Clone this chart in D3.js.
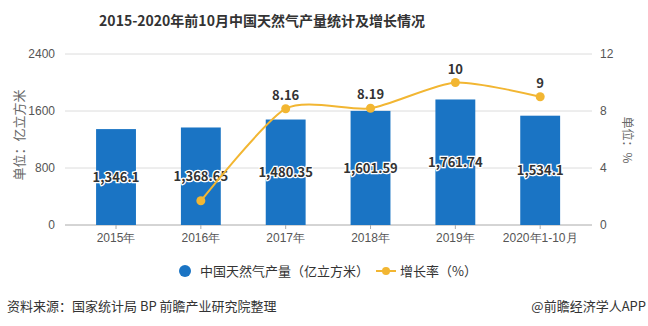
<!DOCTYPE html>
<html>
<head>
<meta charset="utf-8">
<script src="https://cdn.jsdelivr.net/npm/d3@7"></script>
<style>
  body { margin: 0; background: #fff; }
  svg { font-family: "Microsoft YaHei", "Noto Sans CJK SC", sans-serif; }
  .axis text { fill: #555; font-size: 12px; }
  .axis path, .axis line { stroke: #aaa; }
</style>
</head>
<body>
<svg id="chart"></svg>
<script>
// data
const categories = ["2015年", "2016年", "2017年", "2018年", "2019年", "2020年1-10月"];
const output = [1346.1, 1368.65, 1480.35, 1601.59, 1761.74, 1534.1];
const outputLabels = ["1,346.1", "1,368.65", "1,480.35", "1,601.59", "1,761.74", "1,534.1"];
const growth = [1.7, 8.16, 8.19, 10, 9];
const growthCats = ["2016年", "2017年", "2018年", "2019年", "2020年1-10月"];
const growthLabels = ["", "8.16", "8.19", "10", "9"];
const leftTicks = [0, 800, 1600, 2400];
const rightTicks = [0, 4, 8, 12];

const W = 648, H = 326;
const margin = {top: 54, right: 56, bottom: 101, left: 65};
const width = W - margin.left - margin.right;
const height = H - margin.top - margin.bottom;

const blue = "#1a74c4", gold = "#f2b632";

const svg = d3.select("svg#chart")
    .attr("width", W)
    .attr("height", H);

svg.append("text")
    .attr("x", 262)
    .attr("y", 26)
    .attr("text-anchor", "middle")
    .attr("font-size", "14px")
    .attr("font-weight", "bold")
    .attr("fill", "#333")
    .text("2015-2020年前10月中国天然气产量统计及增长情况");

const g = svg.append("g")
    .attr("transform", "translate(" + margin.left + "," + margin.top + ")");

const x = d3.scaleBand()
    .domain(categories)
    .range([8.6, 517.6])
    .paddingInner(0.53)
    .paddingOuter(0.265);

const yL = d3.scaleLinear().domain([0, 2400]).range([height, 0]);
const yR = d3.scaleLinear().domain([0, 12]).range([height, 0]);

// grid lines
g.append("g")
    .selectAll("line")
    .data(leftTicks.slice(1))
    .enter().append("line")
    .attr("x1", 0)
    .attr("x2", width)
    .attr("y1", d => yL(d))
    .attr("y2", d => yL(d))
    .attr("stroke", "#dcdcdc");

// left axis
g.append("g")
    .attr("class", "axis")
    .call(d3.axisLeft(yL).tickValues(leftTicks).tickFormat(d3.format("d")).tickSize(0).tickPadding(10))
    .call(a => a.select(".domain").remove());

// right axis
g.append("g")
    .attr("class", "axis")
    .attr("transform", "translate(" + width + ",0)")
    .call(d3.axisRight(yR).tickValues(rightTicks).tickSize(0).tickPadding(8))
    .call(a => a.select(".domain").remove());

// x axis
g.append("g")
    .attr("class", "axis")
    .attr("transform", "translate(0," + height + ")")
    .call(d3.axisBottom(x).tickSize(4).tickSizeOuter(0).tickPadding(4))
    .call(a => a.select(".domain").attr("d", "M0,0H" + width));

// axis titles
svg.append("text")
    .attr("transform", "translate(24,135) rotate(-90)")
    .attr("text-anchor", "middle")
    .attr("font-size", "13px")
    .attr("fill", "#666")
    .text("单位：亿立方米");

svg.append("text")
    .attr("transform", "translate(623,140) rotate(90)")
    .attr("text-anchor", "middle")
    .attr("font-size", "12px")
    .attr("fill", "#666")
    .text("单位：%");

// bars
const bars = g.selectAll("g.bar")
    .data(output)
    .enter().append("g")
    .attr("class", "bar");

bars.append("rect")
    .attr("x", (d, i) => x(categories[i]))
    .attr("y", d => yL(d))
    .attr("width", x.bandwidth())
    .attr("height", d => height - yL(d))
    .attr("fill", blue);

bars.append("text")
    .attr("x", (d, i) => x(categories[i]) + x.bandwidth() / 2)
    .attr("y", d => (yL(d) + height) / 2 + 5)
    .attr("text-anchor", "middle")
    .attr("font-size", "13px")
    .attr("font-weight", "bold")
    .attr("fill", "#333")
    .attr("stroke", "#fff")
    .attr("stroke-width", 2.5)
    .attr("paint-order", "stroke")
    .text((d, i) => outputLabels[i]);

// growth line
const cx = c => x(c) + x.bandwidth() / 2;

g.append("path")
    .datum(growth)
    .attr("fill", "none")
    .attr("stroke", gold)
    .attr("stroke-width", 2)
    .attr("d", d3.line()
        .x((d, i) => cx(growthCats[i]))
        .y(d => yR(d))
        .curve(d3.curveCardinal.tension(0.3)));

g.selectAll("circle.pt")
    .data(growth)
    .enter().append("circle")
    .attr("class", "pt")
    .attr("cx", (d, i) => cx(growthCats[i]))
    .attr("cy", d => yR(d))
    .attr("r", 4.5)
    .attr("fill", gold);

g.selectAll("text.gl")
    .data(growth)
    .enter().append("text")
    .attr("class", "gl")
    .attr("x", (d, i) => cx(growthCats[i]))
    .attr("y", d => yR(d) - 9)
    .attr("text-anchor", "middle")
    .attr("font-size", "13px")
    .attr("font-weight", "bold")
    .attr("fill", "#333")
    .text((d, i) => growthLabels[i]);

// legend
const leg = svg.append("g").attr("transform", "translate(0,271)");
leg.append("circle").attr("cx", 185).attr("cy", 0).attr("r", 6).attr("fill", blue);
leg.append("text").attr("x", 200).attr("y", 5)
    .attr("font-size", "13px").attr("fill", "#333")
    .text("中国天然气产量（亿立方米）");
leg.append("line").attr("x1", 376).attr("x2", 396).attr("y1", 0).attr("y2", 0)
    .attr("stroke", gold).attr("stroke-width", 2);
leg.append("circle").attr("cx", 386).attr("cy", 0).attr("r", 4).attr("fill", gold);
leg.append("text").attr("x", 400).attr("y", 5)
    .attr("font-size", "13px").attr("fill", "#333")
    .text("增长率（%）");

// footer
svg.append("text")
    .attr("x", 7).attr("y", 311)
    .attr("font-size", "13px").attr("fill", "#333")
    .text("资料来源：国家统计局 BP 前瞻产业研究院整理");
svg.append("text")
    .attr("x", 646).attr("y", 311)
    .attr("text-anchor", "end")
    .attr("font-size", "13px").attr("fill", "#333")
    .text("@前瞻经济学人APP");
</script>
</body>
</html>
